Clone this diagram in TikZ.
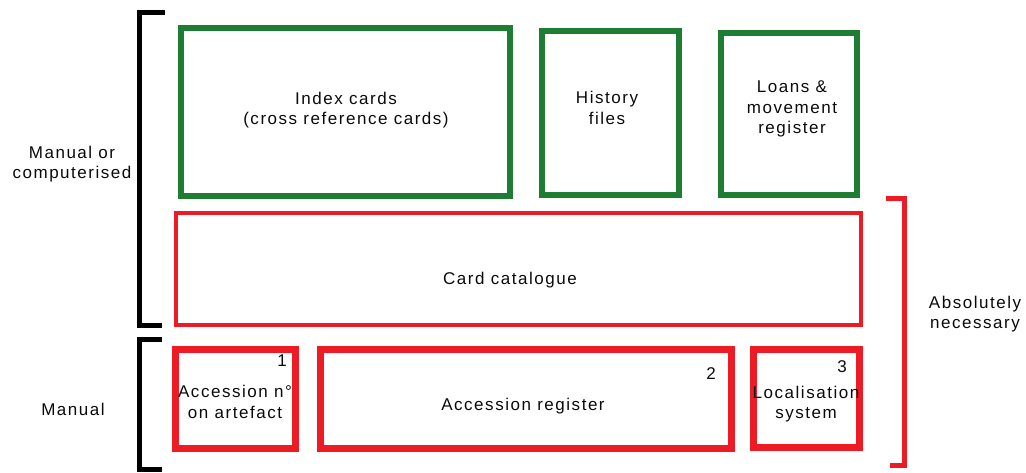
\documentclass[tikz,border=0pt]{standalone}
\usepackage{fontspec}
\setmainfont{Liberation Sans}[LetterSpace=9]
\definecolor{boxgreen}{RGB}{30,125,50}
\definecolor{boxred}{RGB}{237,28,36}
\definecolor{txt}{RGB}{10,10,10}
\begin{document}
\begin{tikzpicture}[x=1pt,y=-1pt,
  lbl/.style={text=txt,font=\fontsize{17}{20.5}\selectfont,align=center,inner sep=0pt},
  greenbox/.style={draw=boxgreen,line width=6pt},
  thinred/.style={draw=boxred,line width=4pt},
  thickred/.style={draw=boxred,line width=7pt},
  blackbrk/.style={draw=black,line width=5pt},
  redbrk/.style={draw=boxred,line width=5pt}]
\useasboundingbox (0,0) rectangle (1026,472);
% green boxes
\draw[greenbox] (181,28) rectangle (510,196);
\draw[greenbox] (542,31) rectangle (679,194.5);
\draw[greenbox] (720.5,33) rectangle (856.5,194.5);
% card catalogue
\draw[thinred] (176,213) rectangle (861,325);
% bottom row
\draw[thickred] (175.5,349) rectangle (295.5,448);
\draw[thickred] (320,349.5) rectangle (731,448.5);
\draw[thickred] (753.5,349) rectangle (859.5,447);
% brackets
\draw[blackbrk] (165,12.5) -- (139.5,12.5) -- (139.5,325.5) -- (162,325.5);
\draw[blackbrk] (162,339.5) -- (139.5,339.5) -- (139.5,469.5) -- (162,469.5);
\draw[redbrk] (886,198.5) -- (904.5,198.5) -- (904.5,465) -- (890,465);
% texts
\node[lbl] (idx) at (346,110) {Index cards\\(cross reference cards)};
\node[lbl] (hist) at (607,108) {History\\files};
\node[lbl] (loans) at (792,109) {Loans \&\\movement\\register};
\node[lbl] (cat) at (510,280) {Card catalogue};
\node[lbl] (accno) at (235,402) {Accession n\textdegree\\on artefact};
\node[lbl] (accreg) at (523,406) {Accession register};
\node[lbl] (loc) at (806,404) {Localisation\\system};
\node[lbl] (n1) at (282,361) {1};
\node[lbl] (n2) at (711,374) {2};
\node[lbl] (n3) at (842,367) {3};
\node[lbl] (mc) at (72,164) {Manual or\\computerised};
\node[lbl] (man) at (73,409) {Manual};
\node[lbl] (abs) at (975,314) {Absolutely\\necessary};
\end{tikzpicture}
\end{document}
